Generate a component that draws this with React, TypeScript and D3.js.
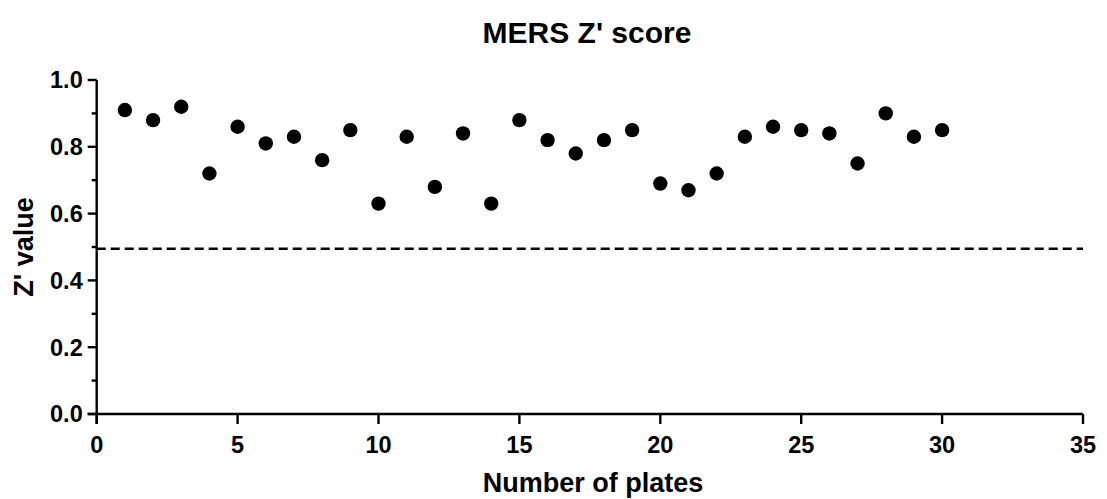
import { useEffect, useRef } from 'react';
import * as d3 from 'd3';

const plates = [1, 2, 3, 4, 5, 6, 7, 8, 9, 10, 11, 12, 13, 14, 15, 16, 17, 18, 19, 20, 21, 22, 23, 24, 25, 26, 27, 28, 29, 30];
const zValues = [0.91, 0.88, 0.92, 0.72, 0.86, 0.81, 0.83, 0.76, 0.85, 0.63, 0.83, 0.68, 0.84, 0.63, 0.88, 0.82, 0.78, 0.82, 0.85, 0.69, 0.67, 0.72, 0.83, 0.86, 0.85, 0.84, 0.75, 0.90, 0.83, 0.85];
const xTicks = [0, 5, 10, 15, 20, 25, 30, 35];
const yTicks = [0, 0.2, 0.4, 0.6, 0.8, 1.0];
const yMinorTicks = [0.1, 0.3, 0.5, 0.7, 0.9];
const threshold = 0.495;

const W = 1107;
const H = 499;
const FONT = '"Liberation Sans", Arial, Helvetica, sans-serif';

export default function App() {
  const svgRef = useRef<SVGSVGElement>(null);

  useEffect(() => {
    if (!svgRef.current) return;
    const margin = { top: 80, right: 24, bottom: 85, left: 96.7 };

    const svg = d3.select(svgRef.current);
    svg.selectAll('*').remove();

    const x = d3.scaleLinear().domain([0, 35]).range([margin.left, W - margin.right]);
    const y = d3.scaleLinear().domain([0, 1]).range([H - margin.bottom, margin.top]);

    const g = svg.append('g').attr('font-family', FONT).attr('font-weight', 'bold');

    // title
    g.append('text')
      .attr('x', 587)
      .attr('y', 43)
      .attr('text-anchor', 'middle')
      .attr('font-size', '30px')
      .attr('fill', '#000')
      .text("MERS Z' score");

    // threshold line
    g.append('line')
      .attr('x1', x(0))
      .attr('x2', x(35))
      .attr('y1', y(threshold))
      .attr('y2', y(threshold))
      .attr('stroke', '#000')
      .attr('stroke-width', 2.5)
      .attr('stroke-dasharray', '9,5');

    // x axis
    const xAxis = g.append('g').attr('transform', `translate(0,${y(0)})`);
    xAxis.append('line')
      .attr('x1', x(0) - 9).attr('x2', x(35))
      .attr('stroke', '#000').attr('stroke-width', 2.4);
    xTicks.forEach(t => {
      xAxis.append('line')
        .attr('x1', x(t)).attr('x2', x(t))
        .attr('y1', 0).attr('y2', 10)
        .attr('stroke', '#000').attr('stroke-width', 2.4);
      xAxis.append('text')
        .attr('x', x(t))
        .attr('y', 39)
        .attr('text-anchor', 'middle')
        .attr('font-size', '23.5px')
        .text(String(t));
    });

    // y axis
    const yAxis = g.append('g').attr('transform', `translate(${x(0)},0)`);
    yAxis.append('line')
      .attr('y1', y(1)).attr('y2', y(0) + 10)
      .attr('stroke', '#000').attr('stroke-width', 2.4);
    yTicks.forEach(t => {
      yAxis.append('line')
        .attr('x1', -9).attr('x2', 0)
        .attr('y1', y(t)).attr('y2', y(t))
        .attr('stroke', '#000').attr('stroke-width', 2.4);
      yAxis.append('text')
        .attr('x', -14)
        .attr('y', y(t))
        .attr('dy', '0.36em')
        .attr('text-anchor', 'end')
        .attr('font-size', '23.5px')
        .text(d3.format('.1f')(t));
    });
    yMinorTicks.forEach(t => {
      yAxis.append('line')
        .attr('x1', -5).attr('x2', 0)
        .attr('y1', y(t)).attr('y2', y(t))
        .attr('stroke', '#000').attr('stroke-width', 2.4);
    });

    // axis titles
    g.append('text')
      .attr('x', 593)
      .attr('y', 492)
      .attr('text-anchor', 'middle')
      .attr('font-size', '27px')
      .text('Number of plates');

    g.append('text')
      .attr('transform', `translate(33,${(y(0) + y(1)) / 2}) rotate(-90)`)
      .attr('text-anchor', 'middle')
      .attr('font-size', '27px')
      .text("Z' value");

    // points
    g.append('g')
      .selectAll('circle')
      .data(plates)
      .join('circle')
      .attr('cx', d => x(d))
      .attr('cy', (_, i) => y(zValues[i]))
      .attr('r', 7.2)
      .attr('fill', '#000');
  }, []);

  return (
    <svg
      ref={svgRef}
      width={W}
      height={H}
      style={{ position: 'absolute', left: 0, top: 0, background: '#fff' }}
    />
  );
}
